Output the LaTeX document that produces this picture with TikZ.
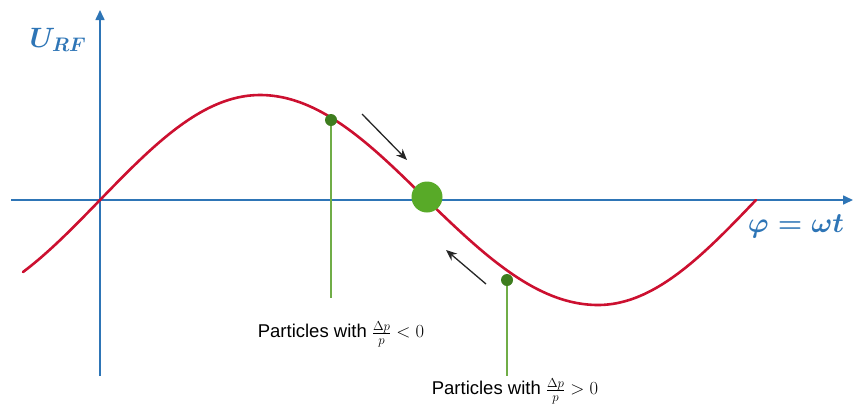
\documentclass[tikz,border=0pt]{standalone}
\usepackage{fix-cm}
\usepackage{fontspec}
\setmainfont{Liberation Sans}
\usetikzlibrary{arrows.meta}
\definecolor{axisblue}{RGB}{46,117,182}
\definecolor{curvered}{RGB}{204,16,48}
\definecolor{bunchgreen}{RGB}{88,170,40}
\definecolor{dotgreen}{RGB}{62,125,30}
\definecolor{stemgreen}{RGB}{112,173,71}
\tikzstyle{axis}=[draw=axisblue, line width=1.6pt, -{Triangle[length=10pt,width=9pt]}]
\tikzstyle{rf}=[draw=curvered, line width=2.6pt, line join=round, line cap=round]
\tikzstyle{bunch}=[circle, fill=bunchgreen, minimum size=31pt, inner sep=0pt]
\tikzstyle{particle}=[circle, fill=dotgreen, minimum size=12pt, inner sep=0pt]
\tikzstyle{stem}=[draw=stemgreen, line width=1.4pt]
\tikzstyle{drift}=[draw=black!85, line width=1.3pt, -{Stealth[length=11pt,width=9pt]}]
\tikzstyle{partlabel}=[font=\fontsize{18.5}{22}\selectfont]
\tikzstyle{axislabel}=[text=axisblue, font=\fontsize{28}{32}\selectfont\boldmath]

\begin{document}
\begin{tikzpicture}[x=1pt, y=-1pt]
    \useasboundingbox (0,0) rectangle (854,413);

    % axes
    \coordinate (yfoot) at (100,376);
    \coordinate (ytip) at (100,10);
    \coordinate (xfoot) at (11,200);
    \coordinate (xtip) at (853,200);
    \draw [axis] (yfoot) -- (ytip);
    \draw [axis] (xfoot) -- (xtip);
    \node [axislabel] (ulabel) at (58,40) {$U_{RF}$};
    \node [axislabel] (philabel) at (796,226) {$\varphi=\omega t$};

    % RF voltage
    \draw [rf] plot[domain=23:260, samples=60] (\x,{200-105*sin(90*(\x-100)/160)})
        -- plot[domain=260:427, samples=50] (\x,{200-105*cos(90*(\x-260)/167)})
        -- plot[domain=427:598, samples=50] (\x,{200+105*sin(90*(\x-427)/171)})
        -- plot[domain=598:756, samples=50] (\x,{200+105*cos(90*(\x-598)/158)});

    % particles
    \coordinate (slowfoot) at (331,298);
    \coordinate (fastfoot) at (507,376);
    \draw [stem] (331,120) -- (slowfoot);
    \draw [stem] (507,280) -- (fastfoot);
    \node [particle] (slow) at (331,120) {};
    \node [particle] (fast) at (507,280) {};
    \node [bunch] (sync) at (427,197) {};

    \node [partlabel] (slowtext) at (341,334) {Particles with $\frac{\Delta p}{p} < 0$};
    \node [partlabel] (fasttext) at (515,391) {Particles with $\frac{\Delta p}{p} > 0$};

    % phase motion
    \coordinate (a1) at (362,114);
    \coordinate (a2) at (407,160);
    \coordinate (b1) at (486,284);
    \coordinate (b2) at (446,250);
    \draw [drift] (a1) -- (a2);
    \draw [drift] (b1) -- (b2);
\end{tikzpicture}
\end{document}
